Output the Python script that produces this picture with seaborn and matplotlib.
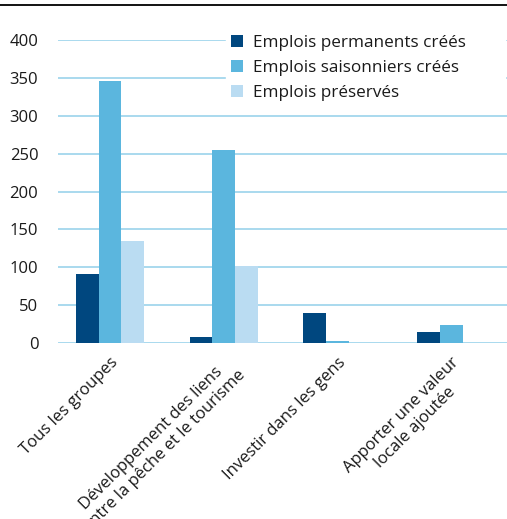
import matplotlib
matplotlib.use("Agg")
import matplotlib.pyplot as plt
from matplotlib.lines import Line2D
import seaborn as sns
import pandas as pd

categories = [
    "Tous les groupes",
    "Développement des liens\nentre la pêche et le tourisme",
    "Investir dans les gens",
    "Apporter une valeur\nlocale ajoutée",
]
series = ["Emplois permanents créés", "Emplois saisonniers créés", "Emplois préservés"]
permanents = [91, 8, 40, 15]
saisonniers = [346, 255, 3, 24]
preserves = [135, 102, 0.6, 0.6]
colors = ["#00477f", "#5bb6de", "#badcf2"]
yticks = [0, 50, 100, 150, 200, 250, 300, 350, 400]

rows = []
for vals, name in zip([permanents, saisonniers, preserves], series):
    for cat, v in zip(categories, vals):
        rows.append({"cat": cat, "serie": name, "val": v})
df = pd.DataFrame(rows)

sns.set_theme(style="white")
plt.rcParams["font.family"] = ["Open Sans", "DejaVu Sans"]

fig = plt.figure(figsize=(5.07, 5.19), dpi=100)
ax = fig.add_axes([0.114, 0.339, 0.886, 0.584])

sns.barplot(data=df, x="cat", y="val", hue="serie", order=categories,
            hue_order=series, palette=colors, width=0.6, saturation=1,
            linewidth=0, edgecolor="none", ax=ax, zorder=3)

ax.set_ylim(0, 400)
ax.set_xlim(-0.46, 3.49)
ax.set_yticks(yticks)
ax.yaxis.grid(True, color="#a9d9ee", linewidth=1.4, zorder=0)
ax.xaxis.grid(False)
for s in ax.spines.values():
    s.set_visible(False)
ax.set_xlabel("")
ax.set_ylabel("")
ax.tick_params(axis="y", length=0, pad=14, labelsize=12, labelcolor="#1a1a1a")
ax.tick_params(axis="x", length=0, pad=8, labelsize=12, labelcolor="#1a1a1a")
for lbl in ax.get_xticklabels():
    lbl.set_rotation(45)
    lbl.set_ha("right")
    lbl.set_va("top")
    lbl.set_rotation_mode("anchor")
    lbl.set_multialignment("center")

leg = ax.legend(loc="upper left", bbox_to_anchor=(0.355, 0.75, 0.66, 0.31),
                mode="expand", frameon=True,
                facecolor="white", edgecolor="white", framealpha=1,
                fontsize=12.3, handlelength=0.7, handleheight=0.7,
                handletextpad=0.6, labelspacing=0.5, borderpad=0.3)
leg.set_zorder(5)
for t in leg.get_texts():
    t.set_color("#1a1a1a")

fig.add_artist(Line2D([0, 1], [1 - 4.5 / 519, 1 - 4.5 / 519],
                      transform=fig.transFigure, color="black", linewidth=1.3))

fig.savefig("out.png", dpi=100, facecolor="white")
